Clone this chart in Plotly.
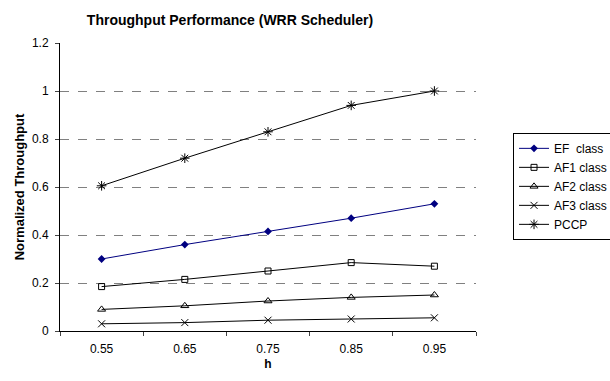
import plotly.graph_objects as go

categories = ["0.55", "0.65", "0.75", "0.85", "0.95"]
ef = [0.30, 0.36, 0.415, 0.47, 0.53]
af1 = [0.185, 0.215, 0.25, 0.285, 0.27]
af2 = [0.09, 0.105, 0.125, 0.14, 0.15]
af3 = [0.03, 0.035, 0.045, 0.05, 0.055]
pccp = [0.605, 0.72, 0.83, 0.94, 1.0]

series = [
    ("EF  class", ef, "#000080", dict(symbol="diamond", size=6, color="#000080")),
    ("AF1 class", af1, "black", dict(symbol="square-open", size=6, color="black", line=dict(width=1))),
    ("AF2 class", af2, "black", dict(symbol="triangle-up-open", size=7, color="black", line=dict(width=1))),
    ("AF3 class", af3, "black", dict(symbol="x-thin", size=7, color="black", line=dict(width=1, color="black"))),
    ("PCCP", pccp, "black", dict(symbol="asterisk", size=8, color="black", line=dict(width=1, color="black"))),
]

fig = go.Figure()
for name, vals, col, mk in series:
    fig.add_trace(go.Scatter(x=categories, y=vals, name=name, mode="lines+markers",
                             line=dict(color=col, width=1), marker=mk))

fig.update_layout(
    width=610, height=381,
    margin=dict(l=60, r=134, t=43, b=50, autoexpand=False),
    paper_bgcolor="white", plot_bgcolor="white",
    font=dict(family="Liberation Sans, Arial, sans-serif", size=12, color="black"),
    title=dict(text="<b>Throughput Performance (WRR Scheduler)</b>", x=0.377, xanchor="center",
               y=0.947, yanchor="middle", font=dict(size=14)),
    showlegend=True,
    legend=dict(x=1.089, y=0.688, xanchor="left", yanchor="top",
                bordercolor="black", borderwidth=1, bgcolor="white",
                font=dict(size=12), tracegroupgap=0),
    xaxis=dict(type="category", tickson="boundaries", ticks="outside", ticklen=4,
               ticklabelstandoff=7, tickfont=dict(size=12),
               showline=True, linecolor="black", linewidth=1, showgrid=False,
               title=dict(text="<b>h</b>", font=dict(size=12), standoff=4),
               range=[-0.5, 4.5]),
    yaxis=dict(range=[0, 1.2], tickvals=[0, 0.2, 0.4, 0.6, 0.8, 1.0, 1.2],
               ticktext=["0", "0.2", "0.4", "0.6", "0.8", "1", "1.2"],
               ticks="outside", ticklen=4, ticklabelstandoff=4,
               showline=True, linecolor="black", linewidth=1,
               showgrid=True, gridcolor="#808080", griddash="dash", gridwidth=1,
               zeroline=False, tickfont=dict(size=12),
               title=dict(text="<b>Normalized Throughput</b>", font=dict(size=13), standoff=4)),
)

fig.write_html("out.html")
